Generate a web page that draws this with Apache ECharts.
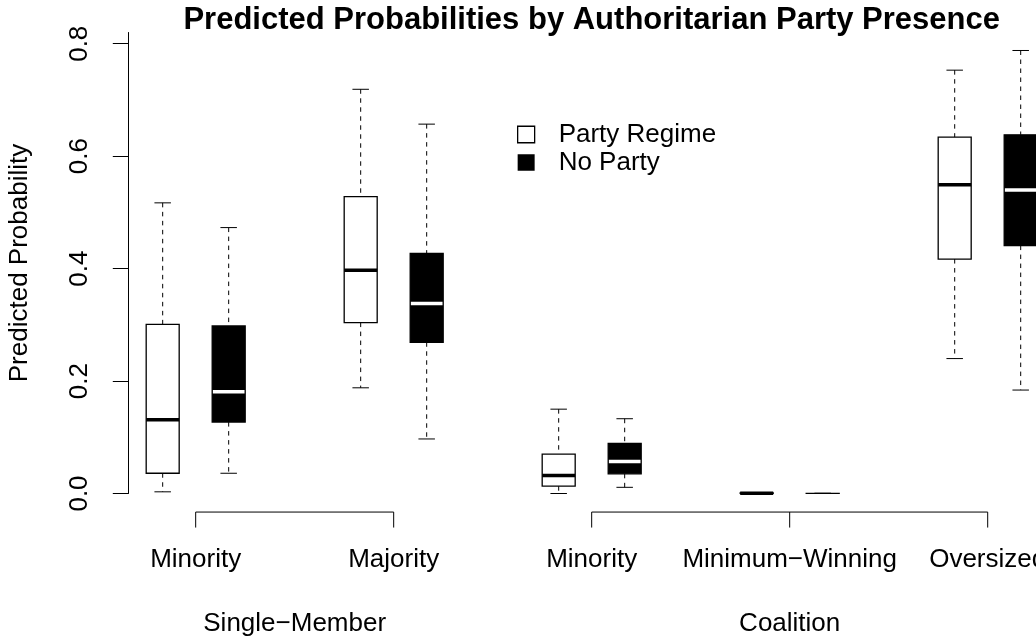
<!DOCTYPE html>
<html>
<head>
<meta charset="utf-8">
<script src="https://cdn.jsdelivr.net/npm/echarts@6/dist/echarts.min.js"></script>
<style>
  html, body { margin: 0; padding: 0; background: #fff; }
  #chart { width: 1036px; height: 637px; }
</style>
</head>
<body>
<div id="chart"></div>
<script>
// Electoral-system groups and the sub-categories that belong to each
const groups = ['Single−Member', 'Coalition'];
const groupMembers = [[0, 1], [2, 3, 4]];
const subCategories = ['Minority', 'Majority', 'Minority', 'Minimum−Winning', 'Oversized'];
const seriesNames = ['Party Regime', 'No Party'];

// Box summaries per sub-category: [min, Q1, median, Q3, max]
const partyRegime = [
  [0.003, 0.036, 0.131, 0.301, 0.517],
  [0.188, 0.304, 0.397, 0.528, 0.719],
  [0.000, 0.013, 0.032, 0.070, 0.150],
  [0.0001, 0.0004, 0.0006, 0.0009, 0.0015],
  [0.240, 0.417, 0.549, 0.634, 0.753]
];
const noParty = [
  [0.036, 0.127, 0.181, 0.298, 0.473],
  [0.097, 0.269, 0.338, 0.427, 0.657],
  [0.011, 0.035, 0.057, 0.089, 0.133],
  [0.0000, 0.0001, 0.0002, 0.0003, 0.0005],
  [0.184, 0.441, 0.540, 0.638, 0.788]
];
const yTicks = [0, 0.2, 0.4, 0.6, 0.8];

// Layout along x: each sub-category takes three slots (two boxes + a gap)
const pairCenter = i => 3 * i + 1.5;
const boxPos = (i, k) => 3 * i + 1 + k;
const groupCenters = groupMembers.map(m => (pairCenter(m[0]) + pairCenter(m[m.length - 1])) / 2);
const xMin = 0.479, xMax = 14.232;
const plotFloor = -0.033;   // lower edge of the plotting region, where the brackets sit

const FONT = "'Liberation Sans', Arial, Helvetica, sans-serif";

function boxRenderer(fill, medianColor) {
  return function (params, api) {
    const x = api.value(0);
    const lo = api.coord([x, api.value(1)]);
    const q1 = api.coord([x, api.value(2)]);
    const md = api.coord([x, api.value(3)]);
    const q3 = api.coord([x, api.value(4)]);
    const hi = api.coord([x, api.value(5)]);
    const bw = api.size([0.5, 0])[0];
    const cw = bw / 2;
    const cx = lo[0];
    const left = cx - bw / 2;
    const rectShape = { x: left, y: q3[1], width: bw, height: Math.max(q1[1] - q3[1], 0) };
    const line = (x1, y1, x2, y2, style) => ({ type: 'line', shape: { x1, y1, x2, y2 }, style });
    const thin = { stroke: '#000', lineWidth: 1 };
    const dashed = { stroke: '#000', lineWidth: 1, lineDash: [4.5, 4.5] };
    return {
      type: 'group',
      children: [
        { type: 'rect', shape: rectShape, style: { fill: fill, stroke: null } },
        line(left, md[1], left + bw, md[1], { stroke: medianColor, lineWidth: 3.5 }),
        line(cx, hi[1], cx, q3[1], dashed),
        line(cx, q1[1], cx, lo[1], dashed),
        line(cx - cw / 2, hi[1], cx + cw / 2, hi[1], thin),
        line(cx - cw / 2, lo[1], cx + cw / 2, lo[1], thin),
        { type: 'rect', shape: rectShape, style: { fill: 'none', stroke: '#000', lineWidth: 1.3 } }
      ]
    };
  };
}

function bracketRenderer(params, api) {
  const members = groupMembers[params.dataIndex];
  const xs = members.map(pairCenter);
  const a = api.coord([xs[0], plotFloor]);
  const b = api.coord([xs[xs.length - 1], plotFloor]);
  const children = [{ type: 'line', shape: { x1: a[0], y1: a[1], x2: b[0], y2: b[1] }, style: { stroke: '#000', lineWidth: 1 } }];
  xs.forEach(v => {
    const p = api.coord([v, plotFloor]);
    children.push({ type: 'line', shape: { x1: p[0], y1: p[1], x2: p[0], y2: p[1] + 15.5 }, style: { stroke: '#000', lineWidth: 1 } });
  });
  return { type: 'group', children };
}

const subLabelByPos = {};
subCategories.forEach((s, i) => { subLabelByPos[pairCenter(i).toFixed(2)] = s; });
const groupLabelByPos = {};
groups.forEach((g, i) => { groupLabelByPos[groupCenters[i].toFixed(2)] = g; });

const chart = echarts.init(document.getElementById('chart'), null, { renderer: 'canvas' });
chart.setOption({
  animation: false,
  backgroundColor: '#fff',
  textStyle: { fontFamily: FONT, color: '#000' },
  title: {
    text: 'Predicted Probabilities by Authoritarian Party Presence',
    left: 591.7,
    textAlign: 'center',
    top: 5,
    padding: 0,
    textStyle: { fontFamily: FONT, fontSize: 31, fontWeight: 'bold', color: '#000' }
  },
  legend: {
    orient: 'vertical',
    left: 517,
    top: 121.5,
    padding: 0,
    itemGap: 2,
    itemWidth: 17,
    itemHeight: 16.5,
    icon: 'rect',
    formatter: name => '{g|}' + name,
    textStyle: { fontFamily: FONT, fontSize: 26, lineHeight: 26, color: '#000', rich: { g: { width: 19 } } },
    data: [
      { name: seriesNames[0], itemStyle: { color: '#fff', borderColor: '#000', borderWidth: 1.3 } },
      { name: seriesNames[1], itemStyle: { color: '#000', borderWidth: 0 } }
    ]
  },
  grid: { left: 128.3, right: 0, top: 32.5, bottom: 143.5, containLabel: false, outerBoundsMode: 'none' },
  xAxis: [
    {
      type: 'value', min: xMin, max: xMax, position: 'bottom',
      axisLine: { show: false }, axisTick: { show: false }, splitLine: { show: false },
      axisLabel: {
        customValues: subCategories.map((_, i) => pairCenter(i)),
        formatter: v => subLabelByPos[Number(v).toFixed(2)] || '',
        hideOverlap: false,
        fontFamily: FONT, fontSize: 26, lineHeight: 26, color: '#000', margin: 53.5
      }
    },
    {
      type: 'value', min: xMin, max: xMax, position: 'bottom',
      axisLine: { show: false }, axisTick: { show: false }, splitLine: { show: false },
      axisLabel: {
        customValues: groupCenters,
        formatter: v => groupLabelByPos[Number(v).toFixed(2)] || '',
        fontFamily: FONT, fontSize: 26, lineHeight: 26, color: '#000', margin: 117
      }
    }
  ],
  yAxis: {
    type: 'value', min: 0, max: 0.82,
    axisLine: { show: true, lineStyle: { color: '#000', width: 1 } },
    axisTick: { show: true, customValues: yTicks, length: 15.5, lineStyle: { color: '#000', width: 1 } },
    axisLabel: {
      customValues: yTicks, rotate: 90, margin: 35,
      formatter: v => Number(v).toFixed(1),
      fontFamily: FONT, fontSize: 26, lineHeight: 26, color: '#000'
    },
    splitLine: { show: false },
    name: 'Predicted Probability',
    nameLocation: 'middle',
    nameRotate: 90,
    nameGap: 95,
    nameTextStyle: { fontFamily: FONT, fontSize: 26, lineHeight: 26, color: '#000' }
  },
  series: [
    {
      name: seriesNames[0], type: 'custom', xAxisIndex: 0,
      itemStyle: { color: '#fff', borderColor: '#000' },
      renderItem: boxRenderer('#fff', '#000'),
      encode: { x: 0, y: [1, 2, 3, 4, 5] },
      data: partyRegime.map((s, i) => [boxPos(i, 0)].concat(s))
    },
    {
      name: seriesNames[1], type: 'custom', xAxisIndex: 0,
      itemStyle: { color: '#000' },
      renderItem: boxRenderer('#000', '#fff'),
      encode: { x: 0, y: [1, 2, 3, 4, 5] },
      data: noParty.map((s, i) => [boxPos(i, 1)].concat(s))
    },
    {
      name: 'brackets', type: 'custom', xAxisIndex: 0,
      renderItem: bracketRenderer,
      encode: { x: [0, 1] },
      data: groupMembers.map(m => [pairCenter(m[0]), pairCenter(m[m.length - 1])]),
      silent: true
    }
  ]
});
</script>
</body>
</html>
